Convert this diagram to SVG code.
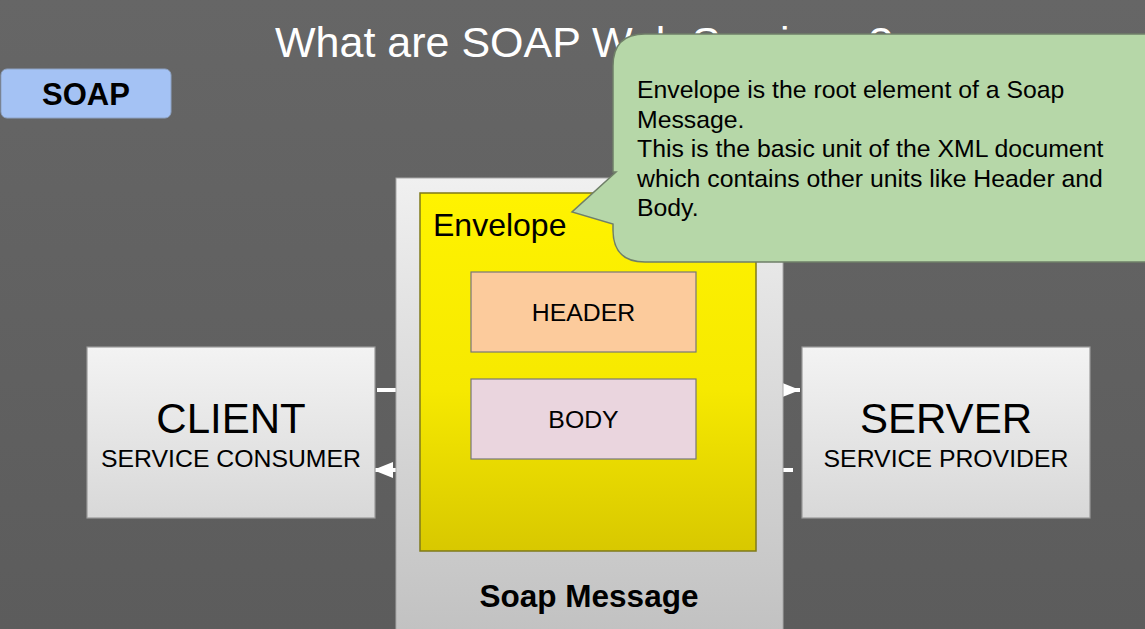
<svg xmlns="http://www.w3.org/2000/svg" width="1145" height="629" viewBox="0 0 1145 629">
<style>
.sans{font-family:"Liberation Sans",Arial,sans-serif}
.box{stroke:#9a9a9a;stroke-width:1.2}
.big{font-size:42px;fill:#000}
.sub{font-size:24.8px;fill:#000}
.conn{stroke:#ffffff;stroke-width:4;fill:none}
</style>
<defs>
<linearGradient id="bg" x1="0" y1="0" x2="0" y2="1"><stop offset="0" stop-color="#666666"/><stop offset="1" stop-color="#5c5c5c"/></linearGradient>
<linearGradient id="node" x1="0" y1="0" x2="0" y2="1"><stop offset="0" stop-color="#f3f3f3"/><stop offset="1" stop-color="#d8d8d8"/></linearGradient>
<linearGradient id="msg" x1="0" y1="0" x2="0" y2="1"><stop offset="0" stop-color="#f0f0f0"/><stop offset="1" stop-color="#c0c0c0"/></linearGradient>
<linearGradient id="env" x1="0" y1="0" x2="0" y2="1"><stop offset="0" stop-color="#fff300"/><stop offset="0.55" stop-color="#f6e900"/><stop offset="1" stop-color="#d8c800"/></linearGradient>
<marker id="arrow" markerUnits="userSpaceOnUse" markerWidth="22" markerHeight="18" refX="20" refY="8" orient="auto"><path d="M0,0 L20,8 L0,16 Z" fill="#ffffff"/></marker>
</defs>
<rect width="1145" height="629" fill="url(#bg)"/>
<text class="sans" x="275" y="57" font-size="43" fill="#ffffff">What are SOAP Web Services ?</text>
<g id="soap-badge">
<rect x="1" y="69" width="170" height="49" rx="6" fill="#a4c2f4" stroke="#8ea3c4" stroke-width="1"/>
<text class="sans" x="86" y="105" font-size="31" font-weight="bold" text-anchor="middle" fill="#000">SOAP</text>
</g>
<g id="connectors">
<line class="conn" x1="377" y1="390" x2="800" y2="390" marker-end="url(#arrow)"/>
<line class="conn" x1="793" y1="470" x2="373" y2="470" marker-end="url(#arrow)"/>
</g>
<g id="client">
<rect class="box" x="87" y="347" width="288" height="171" fill="url(#node)"/>
<text class="sans big" x="231" y="433" text-anchor="middle">CLIENT</text>
<text class="sans sub" x="231" y="467" text-anchor="middle">SERVICE CONSUMER</text>
</g>
<g id="server">
<rect class="box" x="802" y="347" width="288" height="171" fill="url(#node)"/>
<text class="sans big" x="946" y="433" text-anchor="middle">SERVER</text>
<text class="sans sub" x="946" y="467" text-anchor="middle">SERVICE PROVIDER</text>
</g>
<g id="soap-message">
<rect x="396" y="178" width="387" height="470" fill="url(#msg)" stroke="#a8a8a8" stroke-width="1"/>
<text class="sans" x="589" y="607" font-size="31.5" font-weight="bold" text-anchor="middle" fill="#000">Soap Message</text>
</g>
<g id="envelope">
<rect x="420" y="193" width="336" height="358" fill="url(#env)" stroke="#7f7a1a" stroke-width="1.5"/>
<text class="sans" x="433" y="236" font-size="32" fill="#000">Envelope</text>
</g>
<g id="header">
<rect x="471" y="272" width="225" height="80" fill="#fccb9c" stroke="#777777" stroke-width="1.2"/>
<text class="sans sub" x="583.5" y="321" text-anchor="middle">HEADER</text>
</g>
<g id="body">
<rect x="471" y="379" width="225" height="80" fill="#ead5de" stroke="#777777" stroke-width="1.2"/>
<text class="sans sub" x="583.5" y="428" text-anchor="middle">BODY</text>
</g>
<g id="callout">
<path d="M645,34 H1160 V262 H645 Q613,262 613,230 L613,224 L572,212 L616,172 L613,172 L613,66 Q613,34 645,34 Z" fill="#b6d7a8" stroke="#6f7f68" stroke-width="1.5"/>
<text class="sans sub">
<tspan x="637" y="98">Envelope is the root element of a Soap</tspan>
<tspan x="637" y="127.5">Message.</tspan>
<tspan x="637" y="157">This is the basic unit of the XML document</tspan>
<tspan x="637" y="186.5">which contains other units like Header and</tspan>
<tspan x="637" y="216">Body.</tspan>
</text>
</g>
</svg>
